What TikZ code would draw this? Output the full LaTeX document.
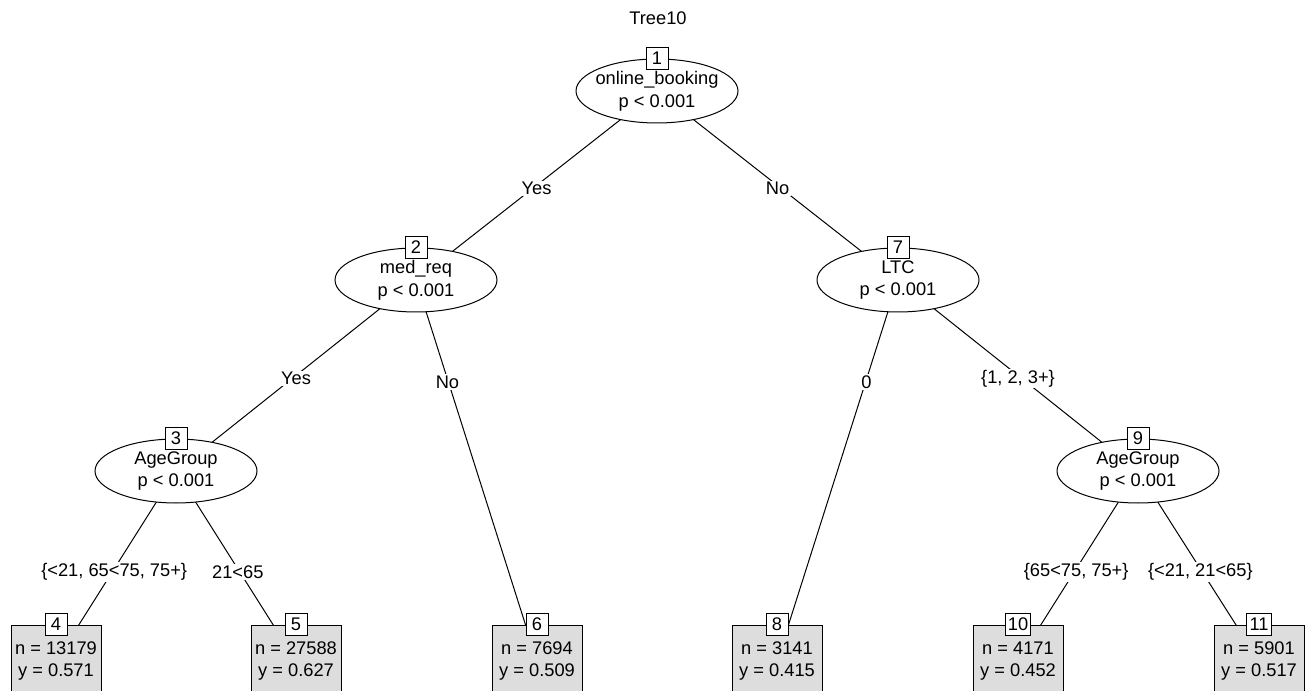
\documentclass[tikz,border=0pt]{standalone}
\usepackage{fontspec}
\setmainfont{Liberation Sans}
\usetikzlibrary{shapes.geometric,backgrounds}
\definecolor{leafgray}{RGB}{221,221,221}
\tikzset{every picture/.style={line width=0.75pt}}
\tikzset{
  split/.style={draw, fill=white, ellipse, minimum width=121.5pt, minimum height=48pt, inner xsep=-14pt, inner ysep=0pt, align=center},
  idbox/.style={draw, fill=white, minimum width=16.5pt, minimum height=16pt, inner xsep=2pt, inner ysep=0pt},
  leaf/.style={draw, fill=leafgray, minimum width=67.5pt, minimum height=54pt, inner sep=0pt, align=center, font=\fontsize{13.7}{16}\selectfont},
  branch/.style={line width=0.75pt},
  elab/.style={fill=white, inner sep=1pt, yshift=-2.25pt}
}

\begin{document}
\begin{tikzpicture}[x=0.75pt,y=0.75pt,yscale=-1,xscale=1,font=\fontsize{13.7}{17}\selectfont]
\useasboundingbox (0,0) rectangle (1314,691);

% Text Node
\node (title) at (658,18) {Tree10};

%Shape: Ellipse (inner nodes)
\node [split] (n1) at (657,91) {online\_booking\\p < 0.001};
\node [split] (n2) at (416,280) {med\_req\\p < 0.001};
\node [split] (n7) at (898,280) {LTC\\p < 0.001};
\node [split] (n3) at (176,471) {AgeGroup\\p < 0.001};
\node [split] (n9) at (1138,471) {AgeGroup\\p < 0.001};

%Shape: Rectangle (terminal nodes)
\node [leaf] (t4) at (56,661) {n = 13179\\y = 0.571};
\node [leaf] (t5) at (296,661) {n = 27588\\y = 0.627};
\node [leaf] (t6) at (537,661) {n = 7694\\y = 0.509};
\node [leaf] (t8) at (777,661) {n = 3141\\y = 0.415};
\node [leaf] (t10) at (1018,661) {n = 4171\\y = 0.452};
\node [leaf] (t11) at (1259,661) {n = 5901\\y = 0.517};

%Shape: Square (node ids)
\node [idbox] (b1) at (n1.north) {1};
\node [idbox] (b2) at (n2.north) {2};
\node [idbox] (b7) at (n7.north) {7};
\node [idbox] (b3) at (n3.north) {3};
\node [idbox] (b9) at (n9.north) {9};
\node [idbox] (b4) at (t4.north) {4};
\node [idbox] (b5) at (t5.north) {5};
\node [idbox] (b6) at (t6.north) {6};
\node [idbox] (b8) at (t8.north) {8};
\node [idbox] (b10) at (t10.north) {10};
\node [idbox] (b11) at (t11.north) {11};

%Straight Lines (edges with split labels)
\begin{pgfonlayer}{background}
\draw [branch] (n1.center) -- node [elab] {Yes} (n2.center);
\draw [branch] (n1.center) -- node [elab] {No} (n7.center);
\draw [branch] (n2.center) -- node [elab] {Yes} (n3.center);
\draw [branch] (n2.center) -- node [elab, pos=0.26] {No} (t6.center);
\draw [branch] (n7.center) -- node [elab, pos=0.26] {0} (t8.center);
\draw [branch] (n7.center) -- node [elab] {\{1, 2, 3+\}} (n9.center);
\draw [branch] (n3.center) -- node [elab, pos=0.515] {\{<21, 65<75, 75+\}} (t4.center);
\draw [branch] (n3.center) -- node [elab, pos=0.515] {21<65} (t5.center);
\draw [branch] (n9.center) -- node [elab, pos=0.515] {\{65<75, 75+\}} (t10.center);
\draw [branch] (n9.center) -- node [elab, pos=0.515] {\{<21, 21<65\}} (t11.center);
\end{pgfonlayer}

\end{tikzpicture}
\end{document}
